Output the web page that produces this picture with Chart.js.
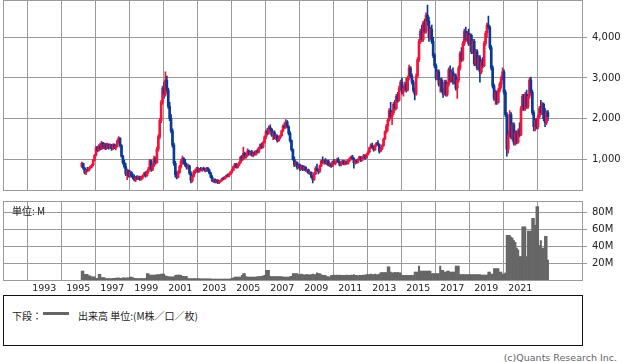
<!DOCTYPE html>
<html><head><meta charset="utf-8">
<script src="https://cdn.jsdelivr.net/npm/chart.js@4/dist/chart.umd.min.js"></script>
<style>
html,body{margin:0;padding:0;background:#fff;}
#wrap{position:relative;width:638px;height:362px;overflow:hidden;background:#fff;}
canvas{position:absolute;left:0;}
#c1{top:0;}
#c2{top:195px;}
.t{position:absolute;white-space:nowrap;line-height:10px;color:#222;}
#unit{left:12px;top:203px;font:10px "Noto Sans CJK JP",sans-serif;}
#legend{position:absolute;left:3px;top:295px;width:580px;height:51px;box-sizing:border-box;border:1px solid #111;}
#lg1{left:12px;top:308px;font:10px "Noto Sans CJK JP",sans-serif;}
#lgline{position:absolute;left:43px;top:312px;width:26px;height:3px;background:#666;}
#lg2{left:78px;top:308px;font:10px "Noto Sans CJK JP",sans-serif;}
#copy{right:21px;top:352px;font:9.5px "DejaVu Sans",sans-serif;color:#666;}
</style></head>
<body><div id="wrap">
<canvas id="c1" width="638" height="195"></canvas>
<canvas id="c2" width="638" height="100"></canvas>
<div class="t" id="unit">単位: M</div>
<div id="legend"></div>
<div class="t" id="lg1">下段：</div>
<div id="lgline"></div>
<div class="t" id="lg2">出来高 単位:(M株／口／枚)</div>
<div class="t" id="copy">(c)Quants Research Inc.</div>
</div>
<script>
// Monthly candles, first month 1995-03
const startYear = 1995, startMonth = 3;
const yearTicks = [1993,1995,1997,1999,2001,2003,2005,2007,2009,2011,2013,2015,2017,2019,2021];
const priceTicks = [1000,2000,3000,4000];
const volumeTicks = [20,40,60,80];

const opens = [
 820,900,780,680,740,720,790,820,860,980,
 1100,1280,1220,1330,1260,1400,1300,1370,1280,1360,1290,1350,
 1260,1360,1290,1320,1450,1520,1340,1080,920,820,640,720,
 600,680,590,560,500,560,520,570,510,560,600,650,
 600,700,760,960,760,850,1020,920,1250,1550,1950,2400,
 2750,2600,2950,2700,2300,2000,1700,1350,900,620,560,680,
 820,950,1020,920,850,800,840,660,480,580,690,720,
 760,700,760,740,770,750,720,780,720,660,560,480,
 500,440,480,430,460,480,530,520,570,600,590,640,
 690,740,820,880,800,860,920,1050,1000,1150,1050,1100,
 1200,1120,1180,1100,1160,1120,1200,1180,1280,1360,1300,1420,
 1550,1680,1640,1780,1740,1600,1660,1540,1580,1460,1530,1580,
 1700,1820,1780,1920,1800,1640,1460,1240,1000,860,920,800,
 850,760,830,750,800,720,740,660,680,560,500,640,
 780,720,700,840,960,920,980,900,960,860,880,840,
 940,900,940,1000,940,860,920,960,880,940,900,980,
 1020,1060,1020,920,960,930,1000,1060,980,1040,1100,1040,
 1120,1180,1280,1350,1300,1240,1340,1400,1360,1200,1260,1340,
 1500,1680,1820,1960,2200,2050,2150,2350,2250,2550,2450,2750,
 2900,2650,2750,2850,2700,3000,3250,3050,2900,2700,2600,3050,
 3450,3900,4150,3950,4350,4150,4550,4400,4000,4200,3900,3550,
 3300,3000,3150,2850,2950,2700,2600,2900,2600,2850,3200,2950,
 3150,2900,3050,2750,2950,3250,3600,3450,3850,4150,3950,4100,
 3850,4050,3650,3900,3350,3650,3250,3500,3150,3400,3300,3850,
 4100,4300,4250,3750,3250,2800,2500,2650,2400,2700,2850,3000,
 3150,2650,2100,1250,1600,2100,1550,1850,1400,1650,1420,1700,
 1600,2250,2550,2250,2600,2300,2550,2950,2650,2150,1800,1950,
 1800,2050,2250,2150,2350,2000,1900,2150
];
const highs = [
 930,910,800,760,800,800,840,880,1000,1120,
 1320,1320,1360,1400,1440,1420,1400,1390,1400,1380,1380,1370,
 1380,1380,1350,1480,1560,1530,1360,1100,980,900,760,740,
 720,700,640,620,580,600,590,590,580,620,680,700,
 720,800,1000,980,880,1080,1060,1300,1600,2000,2450,2800,
 2900,3150,3050,2750,2400,2100,1750,1400,950,700,720,850,
 1000,1080,1040,1000,900,880,860,700,620,720,760,800,
 800,780,800,790,810,780,800,800,760,680,600,520,
 520,500,500,480,500,540,560,580,620,640,660,700,
 760,840,900,900,880,940,1080,1100,1300,1180,1130,1260,
 1230,1200,1220,1180,1200,1220,1260,1300,1380,1400,1440,1580,
 1720,1760,1820,1850,1760,1700,1700,1620,1600,1560,1600,1720,
 1850,1900,1980,1950,1830,1680,1480,1260,1060,960,940,880,
 880,860,850,840,820,760,760,700,690,600,680,820,
 880,760,860,980,1060,1000,1020,980,980,920,900,960,
 1000,960,1020,1040,960,940,980,970,960,960,1000,1040,
 1080,1100,1040,980,1000,1020,1080,1070,1060,1120,1110,1140,
 1200,1300,1380,1400,1320,1360,1420,1460,1380,1280,1360,1520,
 1700,1860,2000,2250,2400,2200,2400,2450,2600,2650,2800,2950,
 3000,2800,2900,3000,3050,3320,3280,3100,2950,2750,3100,3500,
 3950,4200,4300,4400,4450,4600,4790,4500,4250,4300,4000,3600,
 3350,3200,3200,3000,3000,2750,2950,2950,2900,3250,3300,3200,
 3250,3100,3100,3000,3300,3650,3750,3900,4200,4250,4150,4200,
 4100,4080,3950,3950,3700,3700,3550,3550,3450,3500,3900,4150,
 4350,4520,4280,3800,3300,2850,2700,2680,2750,2900,3050,3250,
 3200,2700,2150,1700,2200,2150,1900,1900,1700,1700,1750,1900,
 2300,2600,2600,2650,2700,2600,3000,3020,2700,2200,2000,2000,
 2100,2300,2450,2400,2380,2250,2200,2200
];
const lows = [
 800,760,640,620,700,710,760,790,840,960,
 1080,1180,1200,1230,1240,1260,1250,1240,1260,1250,1270,1220,
 1240,1260,1230,1300,1400,1300,1050,880,780,600,500,560,
 560,560,520,470,450,500,500,480,490,520,580,560,
 580,660,740,700,720,820,880,900,1200,1500,1900,2350,
 2500,2550,2650,2250,1950,1650,1300,850,560,520,540,650,
 780,880,880,820,760,760,620,420,440,560,640,680,
 680,680,720,700,730,690,700,700,640,540,450,430,
 420,420,400,400,440,470,500,510,540,570,570,620,
 660,720,800,780,780,840,900,960,980,1020,1030,1080,
 1100,1100,1080,1060,1100,1100,1150,1160,1250,1260,1280,1400,
 1500,1600,1620,1700,1560,1480,1500,1480,1420,1440,1500,1560,
 1680,1760,1760,1780,1600,1420,1200,980,820,840,760,780,
 720,740,720,730,700,680,640,620,540,420,480,620,
 700,640,680,820,900,880,880,860,840,820,800,820,
 880,860,920,920,840,840,880,860,860,880,880,940,
 980,1000,780,880,900,910,980,940,960,1020,1000,1020,
 1100,1160,1260,1280,1200,1220,1320,1340,1150,1180,1240,1320,
 1480,1640,1700,1940,2000,1850,2100,2200,2230,2400,2430,2700,
 2600,2550,2700,2650,2680,2950,3000,2850,2650,2460,2580,3000,
 3400,3850,3900,3900,4100,4100,4300,3900,3950,3850,3500,3250,
 2950,2950,2800,2650,2650,2520,2580,2550,2550,2800,2900,2900,
 2850,2850,2700,2500,2900,3200,3400,3420,3800,3900,3900,3800,
 3800,3600,3600,3300,3300,3200,3200,2900,3100,3250,3280,3800,
 4000,4200,3700,3200,2750,2450,2350,2350,2380,2650,2750,2950,
 2600,2050,1080,1150,1550,1500,1450,1350,1350,1380,1400,1550,
 1580,2200,2200,2200,2250,2250,2500,2600,2100,1700,1700,1750,
 1750,2000,2100,2100,1950,1800,1850,1950
];
const closes = [
 900,780,680,740,720,790,820,860,980,1100,
 1280,1220,1330,1260,1400,1300,1370,1280,1360,1290,1350,1260,
 1360,1290,1320,1450,1520,1340,1080,920,820,640,720,600,
 680,590,560,500,560,520,570,510,560,600,650,600,
 700,760,960,760,850,1020,920,1250,1550,1950,2400,2750,
 2600,2950,2700,2300,2000,1700,1350,900,620,560,680,820,
 950,1020,920,850,800,840,660,480,580,690,720,760,
 700,760,740,770,750,720,780,720,660,560,480,500,
 440,480,430,460,480,530,520,570,600,590,640,690,
 740,820,880,800,860,920,1050,1000,1150,1050,1100,1200,
 1120,1180,1100,1160,1120,1200,1180,1280,1360,1300,1420,1550,
 1680,1640,1780,1740,1600,1660,1540,1580,1460,1530,1580,1700,
 1820,1780,1920,1800,1640,1460,1240,1000,860,920,800,850,
 760,830,750,800,720,740,660,680,560,500,640,780,
 720,700,840,960,920,980,900,960,860,880,840,940,
 900,940,1000,940,860,920,960,880,940,900,980,1020,
 1060,1020,920,960,930,1000,1060,980,1040,1100,1040,1120,
 1180,1280,1350,1300,1240,1340,1400,1360,1200,1260,1340,1500,
 1680,1820,1960,2200,2050,2150,2350,2250,2550,2450,2750,2900,
 2650,2750,2850,2700,3000,3250,3050,2900,2700,2600,3050,3450,
 3900,4150,3950,4350,4150,4550,4400,4000,4200,3900,3550,3300,
 3000,3150,2850,2950,2700,2600,2900,2600,2850,3200,2950,3150,
 2900,3050,2750,2950,3250,3600,3450,3850,4150,3950,4100,3850,
 4050,3650,3900,3350,3650,3250,3500,3150,3400,3300,3850,4100,
 4300,4250,3750,3250,2800,2500,2650,2400,2700,2850,3000,3150,
 2650,2100,1250,1600,2100,1550,1850,1400,1650,1420,1700,1600,
 2250,2550,2250,2600,2300,2550,2950,2650,2150,1800,1950,1800,
 2050,2250,2150,2350,2000,1900,2150,2050
];
// volume in millions
const volumes = [
 11,11,7.4,7.4,7.4,5.4,5.4,4.2,4.2,4.2,
 2.5,2.5,7.4,7.4,3.5,3.5,3.5,2.3,2.3,2.3,2.3,2.3,
 2.5,2.5,2.8,2.8,3,2.5,2.5,3,3,2.8,3,3,
 4,4,3.5,2.5,2.5,2.4,2.4,2.4,2.5,2.4,2.4,2.5,
 8,8,6.5,6.5,6.5,6.5,6.5,7,7,7,7.5,7.5,
 7.5,5.5,5,4.5,4.3,4.3,4.3,4.3,6,6.3,6.3,6.3,
 6,5,5,5,5,2.4,2.4,2.4,2.4,2.4,2.4,2.4,
 2.2,2.2,2,2,2,2,2,2,2,2,1.8,1.6,
 1.6,1.6,1.6,1.6,1.7,1.7,1.7,1.8,1.8,1.8,1.8,2,
 2.5,3,4,4,4,4,4,6,8,8,4.5,4,
 4,4,4,4,4,4,4.5,4.5,5,5,5.5,6,
 12,12,12,5,4.7,4.7,4.7,4.7,4.7,4.7,4.5,4.5,
 4,4,4,4,4,4.5,5,8,8,8,8,7,
 7,7.5,7,6.5,7,7,7,6.5,7,7.5,7,7,
 9,8,8,7,6,6,6,4.5,4.3,4.3,6,6,
 6.3,6,6.5,6,6.5,6,6,6,6,6.3,6,6,
 6.5,6,7,6,6,5.5,6,6,6,6.5,6.5,7,
 7,7,7.5,7,7,7.5,7,7,7.5,9.4,9.4,9.4,
 9.4,9.4,16,16,10,9,9,9.5,9,9.5,9,9,
 6,6,6,6,6,6,6,6,6,10,10,10,
 17,11,11,11,11,11,11,11,11,8,8,8,
 8,8,8,17,12,12,10,10,11,11,10,10,
 10,10,17,17,17,7,7,7,7,7,7,7,
 7,7,7,7,7,7,7,7,6.3,6.3,6.3,6.3,
 6.3,10,10,7.5,7.5,14,14,14,14,10,10,7.5,
 7.5,9,53,53,53,51,50,47,45,38,36,28,
 28,63,63,63,28,58,58,58,73,73,65,87,
 87,41,47,38,38,52,52,24
];

const UP = '#f2143c', DOWN = '#0b3a96';
const months = closes.map((_, i) => startYear + (startMonth - 1 + i + 0.5) / 12);
const candleColors = closes.map((c, i) => c >= opens[i] ? UP : DOWN);

const xMin = 1990.571, xMax = 2024.689;
const GRID = '#9a9a9a';

const frame = {
  id: 'frame',
  afterDatasetsDraw(chart) {
    const a = chart.chartArea, ctx = chart.ctx;
    const x1 = Math.round(a.left) + 0.5, y1 = Math.round(a.top) + 0.5;
    const x2 = Math.round(a.right) - 0.5, y2 = Math.round(a.bottom) - 0.5;
    ctx.save();
    ctx.strokeStyle = GRID; ctx.lineWidth = 1;
    ctx.strokeRect(x1, y1, x2 - x1, y2 - y1);
    ctx.restore();
  }
};

const zeroPad = s => { s.paddingTop = 0; s.paddingBottom = 0; s.paddingLeft = 0; s.paddingRight = 0; };

const xCommon = (showLabels) => ({
  type: 'linear', min: xMin, max: xMax, offset: false,
  grid: { color: GRID, lineWidth: 1, drawTicks: false },
  border: { display: false },
  ticks: {
    display: showLabels, autoSkip: false, maxRotation: 0, padding: 2,
    color: '#222', font: { family: 'DejaVu Sans', size: 9.5 },
    callback: v => String(v)
  },
  afterBuildTicks: s => { s.ticks = yearTicks.map(v => ({ value: v })); },
  afterFit: s => { s.height = showLabels ? 14 : 0; zeroPad(s); }
});

new Chart(document.getElementById('c1'), {
  type: 'bar',
  data: {
    datasets: [
      { label: 'wick', data: months.map((x, i) => ({ x, y: [lows[i], highs[i]] })),
        backgroundColor: candleColors, barThickness: 1, grouped: false, order: 2 },
      { label: 'body', data: months.map((x, i) => ({ x, y: [opens[i], closes[i]] })),
        backgroundColor: candleColors, barThickness: 2, grouped: false, minBarLength: 1, order: 1 }
    ]
  },
  options: {
    responsive: false, animation: false, devicePixelRatio: 1,
    layout: { autoPadding: false, padding: { left: 3, top: 0, right: 0, bottom: 4.5 } },
    plugins: { legend: { display: false }, tooltip: { enabled: false } },
    scales: {
      x: xCommon(false),
      y: {
        position: 'right', min: 233, max: 4918,
        grid: { color: GRID, lineWidth: 1, tickLength: 4 },
        border: { display: false },
        ticks: { padding: 5, color: '#222', font: { family: 'DejaVu Sans', size: 10 },
          callback: v => Number(v).toLocaleString('en-US') },
        afterBuildTicks: s => { s.ticks = priceTicks.map(v => ({ value: v })); },
        afterFit: s => { s.width = 55; zeroPad(s); }
      }
    }
  },
  plugins: [frame]
});

new Chart(document.getElementById('c2'), {
  type: 'bar',
  data: {
    datasets: [
      { label: '出来高', data: months.map((x, i) => ({ x, y: volumes[i] })),
        backgroundColor: '#666666', barPercentage: 1, categoryPercentage: 1 }
    ]
  },
  options: {
    responsive: false, animation: false, devicePixelRatio: 1,
    layout: { autoPadding: false, padding: { left: 3, top: 6, right: 0, bottom: 0.5 } },
    plugins: { legend: { display: false }, tooltip: { enabled: false } },
    scales: {
      x: xCommon(true),
      y: {
        position: 'right', min: 0, max: 93.5,
        grid: { color: GRID, lineWidth: 1, tickLength: 4 },
        border: { display: false },
        ticks: { padding: 5, color: '#222', font: { family: 'DejaVu Sans', size: 10 },
          callback: v => v + 'M' },
        afterBuildTicks: s => { s.ticks = volumeTicks.map(v => ({ value: v })); },
        afterFit: s => { s.width = 55; zeroPad(s); }
      }
    }
  },
  plugins: [frame]
});
</script>
</body></html>
